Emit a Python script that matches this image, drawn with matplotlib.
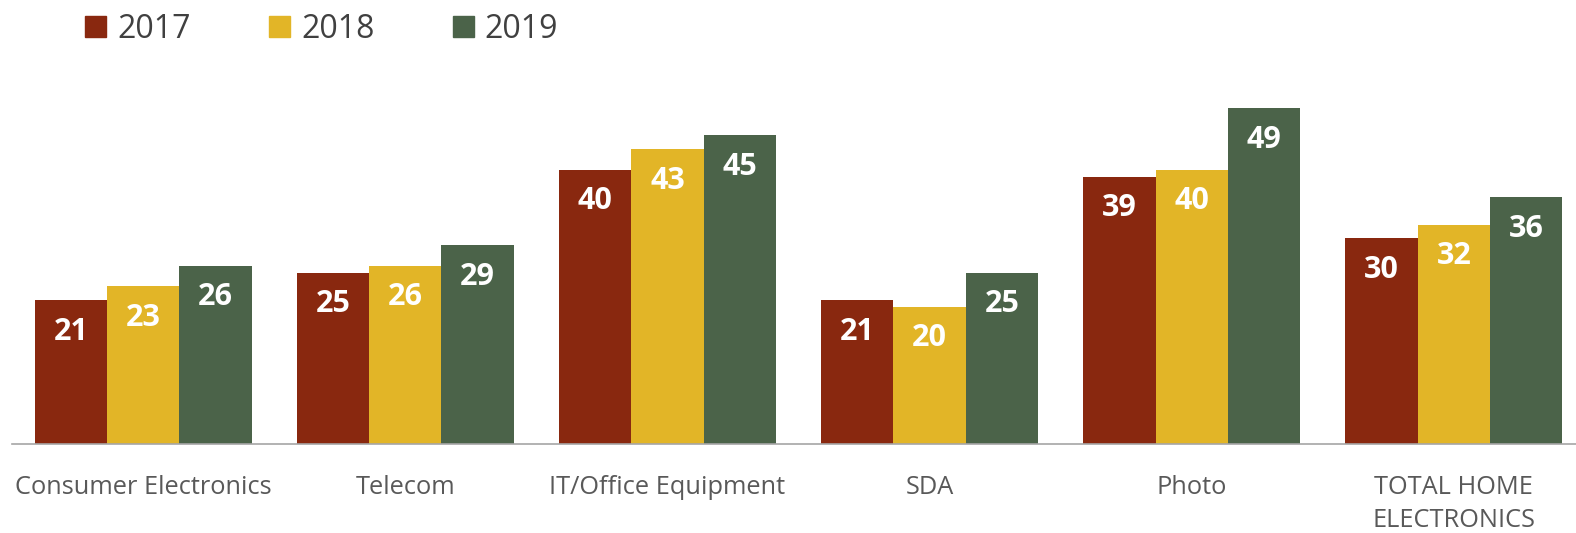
import numpy as np
import matplotlib.pyplot as plt
from matplotlib.patches import Patch

categories = ["Consumer Electronics", "Telecom", "IT/Office Equipment", "SDA", "Photo",
              "TOTAL HOME\nELECTRONICS"]
years = ["2017", "2018", "2019"]
v2017 = [21, 25, 40, 21, 39, 30]
v2018 = [23, 26, 43, 20, 40, 32]
v2019 = [26, 29, 45, 25, 49, 36]

colors = ["#89280F", "#E2B527", "#4B6349"]
font = ["Open Sans", "DejaVu Sans"]

fig = plt.figure(figsize=(15.76, 5.33), dpi=100)
ax = fig.add_axes([12 / 1576, 1 - 444 / 533, 1 - 12 / 1576, 384 / 533])

x = np.arange(len(categories))
w = 0.276
for i, (vals, c) in enumerate(zip([v2017, v2018, v2019], colors)):
    bars = ax.bar(x + (i - 1) * w, vals, width=w, color=c, zorder=2)
    for b, v in zip(bars, vals):
        ax.text(b.get_x() + b.get_width() / 2, v - 4.6, str(v), ha="center", va="center",
                color="white", fontsize=22, fontweight="bold", family=font)

ax.set_xlim(-0.5, 5.466)
ax.set_ylim(0, 56)
ax.set_yticks([])
ax.set_xticks(x)
ax.set_xticklabels(categories, fontsize=18.3, color="#595959", family=font, linespacing=1.42)
ax.tick_params(axis="x", length=0, pad=22)
for lbl in ax.get_xticklabels():
    lbl.set_verticalalignment("top")
for s in ["top", "left", "right"]:
    ax.spines[s].set_visible(False)
ax.spines["bottom"].set_color("#A6A6A6")
ax.spines["bottom"].set_linewidth(1.2)

handles = [Patch(color=c, label=y) for c, y in zip(colors, years)]
fig.legend(handles=handles, loc="upper left", bbox_to_anchor=(0.036, 1.03), ncol=3,
           frameon=False, handlelength=0.65, handleheight=0.65, handletextpad=0.35,
           columnspacing=2.45, prop={"family": font, "size": 23}, labelcolor="#404040")

fig.savefig("out.png", dpi=100)
